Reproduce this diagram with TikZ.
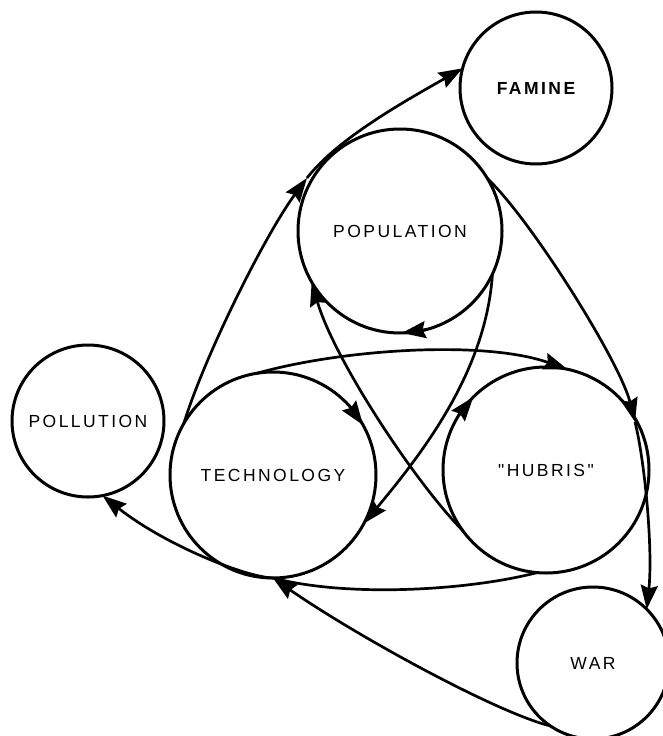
\documentclass[tikz,border=0pt]{standalone}
\usepackage{fontspec}
\newfontfamily\lettering{Liberation Sans}[LetterSpace=14]
\usetikzlibrary{arrows.meta}
\begin{document}
\begin{tikzpicture}[x=1pt,y=-1pt,
  bubble/.style={circle, draw, line width=3pt, inner sep=0pt, outer sep=0pt,
    font=\lettering\fontsize{17.5}{20}\selectfont},
  conn/.style={line width=2.7pt},
  arr/.style={conn, -{Stealth[length=24pt,width=17pt,inset=3pt]}}]
\fill[white] (0,0) rectangle (663,736);
\useasboundingbox (0,0) rectangle (663,736);

\node[bubble, minimum size=152pt] (fam)  at (536,88)  {\bfseries FAMINE};
\node[bubble, minimum size=204pt] (pop)  at (400,231) {POPULATION};
\node[bubble, minimum size=152pt] (pol)  at (88,421)  {POLLUTION};
\node[bubble, minimum size=206pt] (tech) at (273,475) {TECHNOLOGY};
\node[bubble, minimum size=206pt] (hub)  at (546,470) {"HUBRIS"};
\node[bubble, minimum size=152pt] (war)  at (593,663) {WAR};

% technology -> population -> famine
\coordinate (A) at (307,178);
\draw[arr] (tech.150) .. controls (205,355) and (265,235) .. (A);
\draw[arr] (A) .. controls (338,138) and (407,100) .. (fam.165);

% population -> hubris -> war
\coordinate (B) at (635,422);
\draw[arr] (pop.31) .. controls (532,221) and (620,362) .. (B);
\draw[arr] (B) .. controls (645,462) and (653,550) .. (war.45);

% technology -> hubris
\draw[arr] (tech.99) .. controls (343,349) and (484,340) .. (hub.78);

% population -> technology
\draw[arr] (pop.-25) .. controls (486,370) and (425,450) .. (tech.-28);

% hubris -> population
\draw[arr] (hub.216) .. controls (414,481) and (334,359) .. (pop.210);

% hubris -> technology, war -> technology
\draw[conn] (hub.265) .. controls (470,590) and (350,598) .. (tech.-90);
\draw[arr] (war.236) .. controls (495,712) and (355,635) .. (tech.-90);

% technology -> pollution
\draw[arr] (tech.-90) .. controls (245,577) and (165,545) .. (pol.-79);

% arrowheads along the circles
\draw[arr] (pop.285) -- (pop.271);
\draw[arr] (tech.42) -- (tech.29);
\draw[arr] (hub.148) -- (hub.135);
\end{tikzpicture}
\end{document}
